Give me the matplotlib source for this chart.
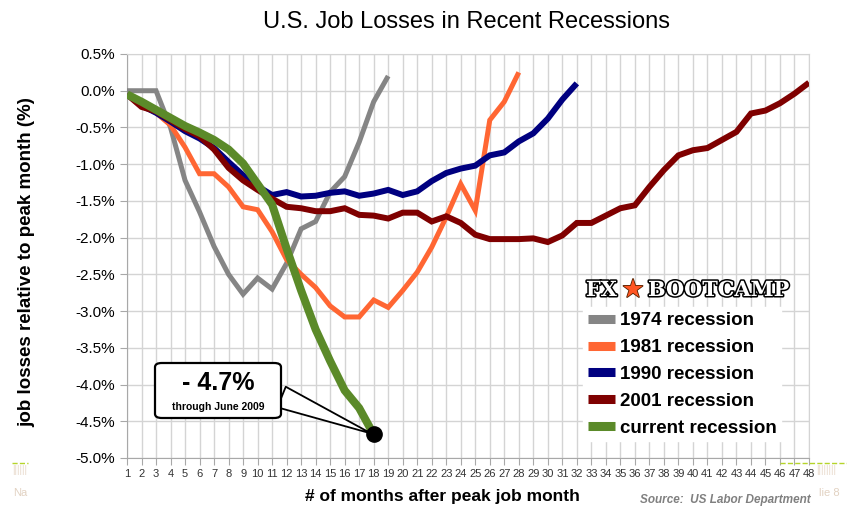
import numpy as np
import matplotlib
matplotlib.use("Agg")
import matplotlib.pyplot as plt
import matplotlib.patheffects as pe
from matplotlib.lines import Line2D
from matplotlib.patches import FancyBboxPatch

plt.rcParams['font.family'] = ['Liberation Sans', 'DejaVu Sans']

# job losses relative to peak month (%), by month after peak
r1974 = [0.0, 0.0, 0.0, -0.5, -1.22, -1.65, -2.12, -2.5, -2.77, -2.55, -2.7, -2.35,
         -1.88, -1.78, -1.38, -1.17, -0.7, -0.15, 0.2]
r1981 = [-0.05, -0.2, -0.3, -0.47, -0.77, -1.13, -1.13, -1.31, -1.58, -1.62, -1.92, -2.3,
         -2.5, -2.68, -2.93, -3.08, -3.08, -2.85, -2.95, -2.72, -2.47, -2.13, -1.72, -1.27,
         -1.63, -0.4, -0.15, 0.25]
r1990 = [-0.05, -0.2, -0.3, -0.42, -0.55, -0.65, -0.78, -0.97, -1.15, -1.3, -1.42, -1.38,
         -1.44, -1.43, -1.39, -1.37, -1.43, -1.4, -1.35, -1.42, -1.37, -1.23, -1.12, -1.06,
         -1.02, -0.88, -0.84, -0.69, -0.58, -0.38, -0.12, 0.1]
r2001 = [-0.05, -0.22, -0.28, -0.4, -0.52, -0.62, -0.8, -1.05, -1.22, -1.35, -1.47, -1.58,
         -1.6, -1.64, -1.64, -1.6, -1.69, -1.7, -1.74, -1.66, -1.66, -1.78, -1.71, -1.8,
         -1.96, -2.02, -2.02, -2.02, -2.01, -2.06, -1.97, -1.8, -1.8, -1.7, -1.6, -1.56,
         -1.31, -1.08, -0.88, -0.81, -0.78, -0.67, -0.56, -0.31, -0.27, -0.17, -0.04, 0.11]
current = [-0.05, -0.15, -0.26, -0.37, -0.48, -0.57, -0.67, -0.8, -0.99, -1.27, -1.55,
           -2.15, -2.72, -3.25, -3.68, -4.08, -4.32, -4.68]

series = [
    ("1974 recession", r1974, "#858585", 3.6),
    ("1981 recession", r1981, "#ff6633", 3.6),
    ("1990 recession", r1990, "#000080", 4.3),
    ("2001 recession", r2001, "#7f0000", 4.3),
    ("current recession", current, "#5b8a29", 5.8),
]

W, H = 847, 515


def fx(x, y):
    return x / W, 1 - y / H


fig = plt.figure(figsize=(W / 100, H / 100), dpi=100)
fig.patch.set_facecolor("white")
ax = fig.add_axes([127 / W, 1 - 458 / H, (809 - 127) / W, (458 - 54) / H])

for name, vals, col, lw in series:
    months = np.arange(1, len(vals) + 1)
    ax.plot(months, vals, color=col, lw=lw, solid_joinstyle="miter",
            solid_capstyle="butt", label=name, zorder=3)

ax.set_xlim(1, 48)
ax.set_ylim(-5.0, 0.5)
ax.set_xticks(np.arange(1, 49))
ax.set_yticks(np.arange(-5.0, 0.51, 0.5))
ax.set_yticklabels([f"{v:.1f}%" for v in np.arange(-5.0, 0.51, 0.5)])
ax.grid(True, color="#d4d4d4", lw=1.0, zorder=0)
ax.set_axisbelow(True)
for s in ["top", "right"]:
    ax.spines[s].set_color("#d4d4d4")
for s in ["left", "bottom"]:
    ax.spines[s].set_color("#a8a8a8")
ax.tick_params(axis="x", labelsize=8, colors="#a8a8a8", labelcolor="#333333",
               length=5, pad=3)
ax.tick_params(axis="y", labelsize=11, colors="#a8a8a8", labelcolor="black",
               length=5, pad=4)

# final point marker and callout
last_x = len(current)
ax.plot([last_x], [current[-1]], "o", color="black", ms=11, zorder=5)
bx0, by0 = fx(155, 418)
bx1, by1 = fx(281, 363)
box = FancyBboxPatch((bx0, by0), bx1 - bx0, by1 - by0, transform=fig.transFigure,
                     boxstyle="round,pad=0,rounding_size=0.008", fc="white",
                     ec="black", lw=1.6, zorder=6)
fig.patches.append(box)
ax.annotate("", xy=(last_x, current[-1]), xycoords="data",
            xytext=fx(279, 396), textcoords="figure fraction",
            arrowprops=dict(arrowstyle="wedge,tail_width=1.6,shrink_factor=0.5",
                            fc="white", ec="black", lw=1.3), zorder=7)
fig.text(*fx(218, 383), "- 4.7%", ha="center", va="center", fontsize=18,
         fontweight="bold", zorder=8)
fig.text(*fx(218, 407), "through June 2009", ha="center", va="center",
         fontsize=7.5, fontweight="bold", zorder=8)

# legend
handles = [Line2D([], [], color=c, lw=6.5, solid_capstyle="butt") for _, _, c, _ in series]
labels = [n for n, _, _, _ in series]
leg = ax.legend(handles, labels, loc="upper left", bbox_to_anchor=fx(574, 298),
                bbox_transform=fig.transFigure, frameon=True, fancybox=False,
                edgecolor="white", facecolor="white", framealpha=1,
                prop=dict(size=13.5, weight="bold"), handlelength=1.45,
                handletextpad=0.25, labelspacing=0.52, borderpad=0.25)
leg.set_zorder(9)

# logo
outline = [pe.Stroke(linewidth=2.2, foreground="black"), pe.Normal()]
fig.text(*fx(617, 290), "FX", ha="right", va="center", fontsize=15,
         family="DejaVu Serif", fontweight="bold", color="white",
         path_effects=outline, zorder=10)
fig.text(*fx(633, 290), "\u2605", ha="center", va="center", fontsize=18,
         family="DejaVu Sans", color="#ff5522",
         path_effects=[pe.Stroke(linewidth=1.2, foreground="#552200"), pe.Normal()],
         zorder=10)
fig.text(*fx(648, 290), "BOOTCAMP", ha="left", va="center", fontsize=15,
         family="DejaVu Serif", fontweight="bold", color="white",
         path_effects=outline, zorder=10)

# titles and labels
fig.text(*fx(466, 22), "U.S. Job Losses in Recent Recessions", ha="center",
         va="center", fontsize=17)
fig.text(*fx(27, 262), "job losses relative to peak month (%)", ha="center",
         va="center", rotation=90, fontsize=13.5, fontweight="bold")
fig.text(*fx(442, 497), "# of months after peak job month", ha="center",
         va="center", fontsize=12.5, fontweight="bold")
fig.text(*fx(725, 500), "Source:  US Labor Department", ha="center", va="center",
         fontsize=8.5, fontweight="bold", style="italic", color="#808080")

# slide footer leftovers
fig.text(*fx(20, 493), "Na", ha="center", va="center", fontsize=8, color="#e2d2c2")
fig.text(*fx(829, 493), "lie 8", ha="center", va="center", fontsize=8, color="#e2d2c2")
fig.text(*fx(20, 470), "||||||", ha="center", va="center", fontsize=7, color="#e6d6c6")
fig.text(*fx(826, 470), "||||||||", ha="center", va="center", fontsize=7, color="#e6d6c6")
fig.lines.append(Line2D([12 / W, 28 / W], [1 - 463 / H] * 2, transform=fig.transFigure,
                        color="#b5d42a", lw=1, ls="--"))
fig.lines.append(Line2D([780 / W, 847 / W], [1 - 463 / H] * 2, transform=fig.transFigure,
                        color="#b5d42a", lw=1, ls="--"))

fig.savefig("out.png", dpi=100)
